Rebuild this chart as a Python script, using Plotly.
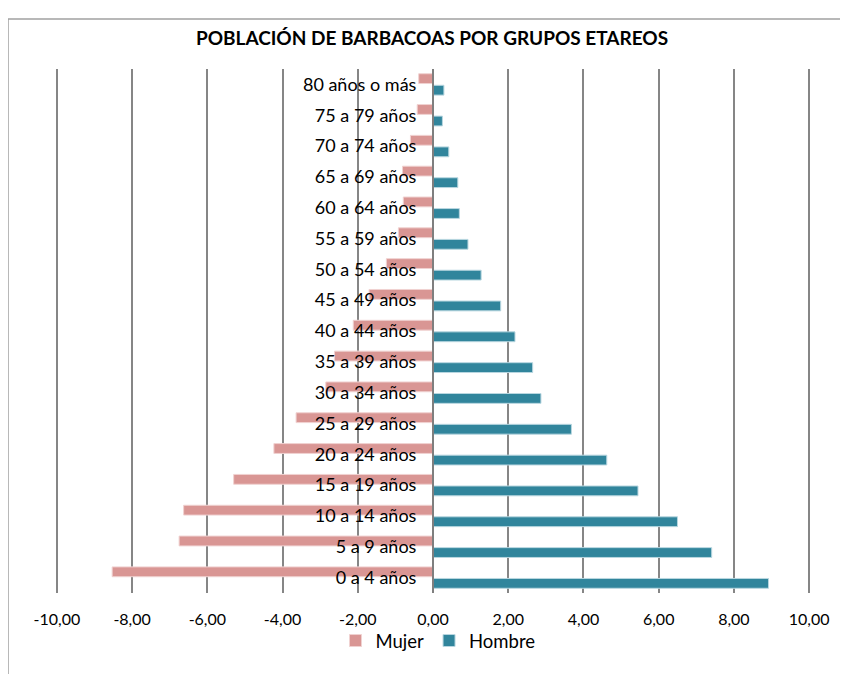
import plotly.graph_objects as go

categorias = ["0 a 4 años", "5 a 9 años", "10 a 14 años", "15 a 19 años", "20 a 24 años",
              "25 a 29 años", "30 a 34 años", "35 a 39 años", "40 a 44 años", "45 a 49 años",
              "50 a 54 años", "55 a 59 años", "60 a 64 años", "65 a 69 años", "70 a 74 años",
              "75 a 79 años", "80 años o más"]
mujer = [-8.53, -6.75, -6.63, -5.30, -4.23, -3.64, -2.85, -2.62, -2.12, -1.70,
         -1.24, -0.92, -0.79, -0.81, -0.60, -0.42, -0.38]
hombre = [8.92, 7.41, 6.50, 5.45, 4.62, 3.68, 2.87, 2.65, 2.18, 1.80,
          1.28, 0.93, 0.70, 0.66, 0.42, 0.25, 0.29]
tick_vals = [-10, -8, -6, -4, -2, 0, 2, 4, 6, 8, 10]
tick_text = ["-10,00", "-8,00", "-6,00", "-4,00", "-2,00", "0,00",
             "2,00", "4,00", "6,00", "8,00", "10,00"]

FONT = "Lato"

fig = go.Figure()
fig.add_trace(go.Bar(y=categorias, x=hombre, orientation="h", name="Hombre",
                     marker=dict(color="#31859C", line=dict(color="#B9D7E0", width=1)),
                     legendrank=2))
fig.add_trace(go.Bar(y=categorias, x=mujer, orientation="h", name="Mujer",
                     marker=dict(color="#D99694", line=dict(color="#F0D2D1", width=1)),
                     legendrank=1))

# page body has an 8px margin, so the figure is drawn at (8, 8)
OFF = 8
W, H = 848 - 2 * OFF, 682 - 2 * OFF
L = 55 - OFF
R = W - (811 - OFF)
T = 69 - OFF
B = H - (593 - OFF)
pw = W - L - R
ph = H - T - B

fig.update_layout(
    width=W, height=H,
    margin=dict(l=L, r=R, t=T, b=B, autoexpand=False),
    paper_bgcolor="white", plot_bgcolor="white",
    barmode="group", bargap=0.25, bargroupgap=0.15,
    title=dict(text="<b>POBLACIÓN DE BARBACOAS POR GRUPOS ETAREOS</b>",
               x=(432 - OFF) / W, xanchor="center", y=1 - (38 - OFF) / H, yanchor="middle",
               font=dict(family=FONT, size=19, color="#000000")),
    font=dict(family=FONT, size=16, color="#000000"),
    xaxis=dict(range=[-10.05, 10.05], tickvals=tick_vals, ticktext=tick_text,
               showgrid=True, gridcolor="#868686", gridwidth=1.5,
               zeroline=False, showline=False, ticks="", automargin=False,
               ticklabelstandoff=15,
               tickfont=dict(family=FONT, size=16), fixedrange=True),
    yaxis=dict(anchor="free", position=0.5, side="left", automargin=False,
               showline=True, linecolor="#7F7F7F", linewidth=2,
               ticks="", ticklabelstandoff=12, showgrid=False,
               tickfont=dict(family=FONT, size=18), fixedrange=True),
    legend=dict(orientation="h", x=(438 - OFF - L) / pw, xanchor="center",
                y=-(641 - 593) / ph, yanchor="middle", bgcolor="rgba(0,0,0,0)",
                font=dict(family=FONT, size=18.5), itemwidth=30,
                tracegroupgap=0, traceorder="normal"),
    showlegend=True,
    shapes=[
        dict(type="line", xref="paper", yref="paper",
             x0=(8 - 55) / pw, x1=(W + 5 - L) / pw,
             y0=(593 - 19) / ph, y1=(593 - 19) / ph,
             line=dict(color="#A0A0A0", width=1.5)),
        dict(type="line", xref="paper", yref="paper",
             x0=(8 - 55) / pw, x1=(8 - 55) / pw,
             y0=(593 - 19) / ph, y1=-(B + 5) / ph,
             line=dict(color="#A0A0A0", width=1.5)),
    ],
)

fig.write_html("out.html")
